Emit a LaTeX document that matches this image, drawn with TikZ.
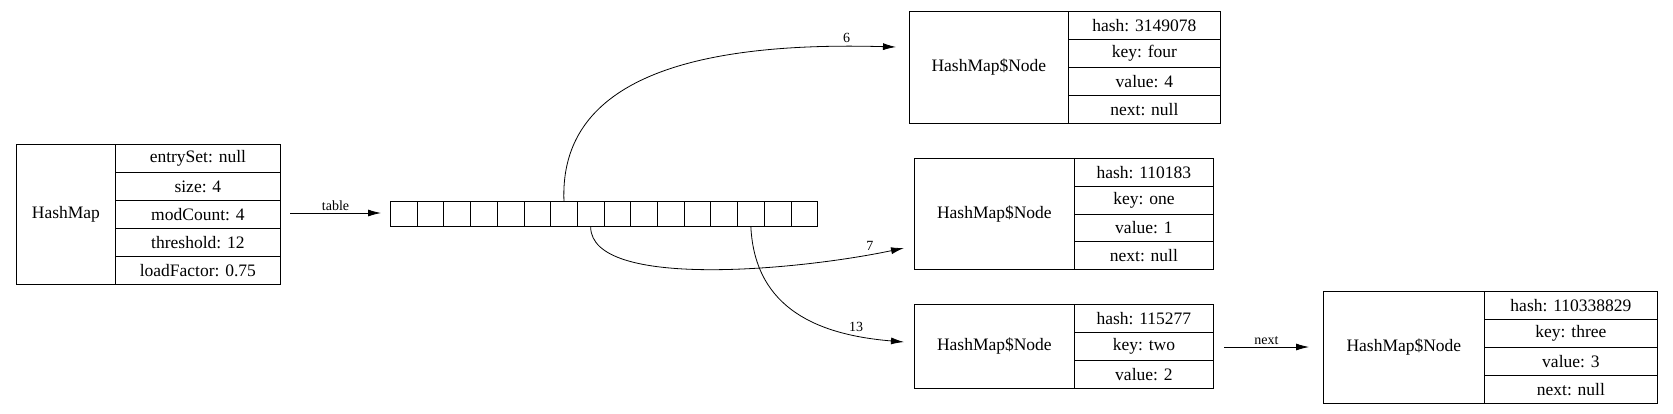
\documentclass[tikz,border=0pt]{standalone}
\usepackage{fontspec}
\setmainfont{Liberation Serif}
\usetikzlibrary{arrows.meta}
\begin{document}
\begin{tikzpicture}[x=1pt,y=-1pt,
  cellbox/.style={draw,thick,inner sep=0pt,font=\fontsize{17.5}{19}\selectfont},
  lbl/.style={font=\fontsize{14}{16}\selectfont},
  edge/.style={-{Latex[length=13pt,width=7pt]},thick}]
\useasboundingbox (0,0) rectangle (1673,413);
\newcommand{\recbox}[8]{%
  \node[cellbox,minimum width={#3-#2},minimum height={#6-#5},anchor=north west] (#1) at (#2,#5) {#7};
  \foreach \t [count=\i] in {#8} {\xdef\nrows{\i}}%
  \foreach \t [count=\i] in {#8} {
    \pgfmathsetmacro\rh{(#6-#5)/\nrows}
    \node[cellbox,minimum width={#4-#3},minimum height=\rh,anchor=north west] (#1-\i) at (#3,{#5+(\i-1)*\rh}) {\t};
  }%
}
\recbox{hm}{16}{115}{280}{144}{284}{HashMap}{entrySet: null,size: 4,modCount: 4,threshold: 12,loadFactor: 0.75}
\recbox{n1}{909}{1068}{1220}{11}{123}{HashMap\$Node}{hash: 3149078,key: four,value: 4,next: null}
\recbox{n2}{914}{1074}{1213}{158}{269}{HashMap\$Node}{hash: 110183,key: one,value: 1,next: null}
\recbox{n3}{914}{1074}{1213}{304}{388}{HashMap\$Node}{hash: 115277,key: two,value: 2}
\recbox{n4}{1323}{1484}{1657}{291}{403}{HashMap\$Node}{hash: 110338829,key: three,value: 3,next: null}
\foreach \i in {0,...,15} {
  \node[draw,thick,inner sep=0pt,minimum width=26.7pt,minimum height=25pt,anchor=north west] (c\i) at ({390+\i*26.7},201) {};
}
\coordinate (s0) at (290,213);
\coordinate (arrw) at (381,213);
\draw[edge] (s0) -- node[lbl,above,pos=0.5,yshift=-1pt]{table} (arrw);
\coordinate (t1) at (896,47);
\coordinate (t2) at (904,248);
\coordinate (t3) at (904,342);
\coordinate (t4) at (1309,347);
\coordinate (s4) at (1224,347);
\draw[edge] (c6.north) .. controls (560,100) and (650,40) .. (t1) node[lbl,pos=0.93,above]{6};
\draw[edge] (c7.south) .. controls (591,290) and (800,270) .. (t2) node[lbl,pos=0.9,above]{7};
\draw[edge] (c13.south) .. controls (755,310) and (820,335) .. (t3) node[lbl,pos=0.8,above]{13};
\draw[edge] (s4) -- node[lbl,above,yshift=-1pt]{next} (t4);
\end{tikzpicture}
\end{document}
